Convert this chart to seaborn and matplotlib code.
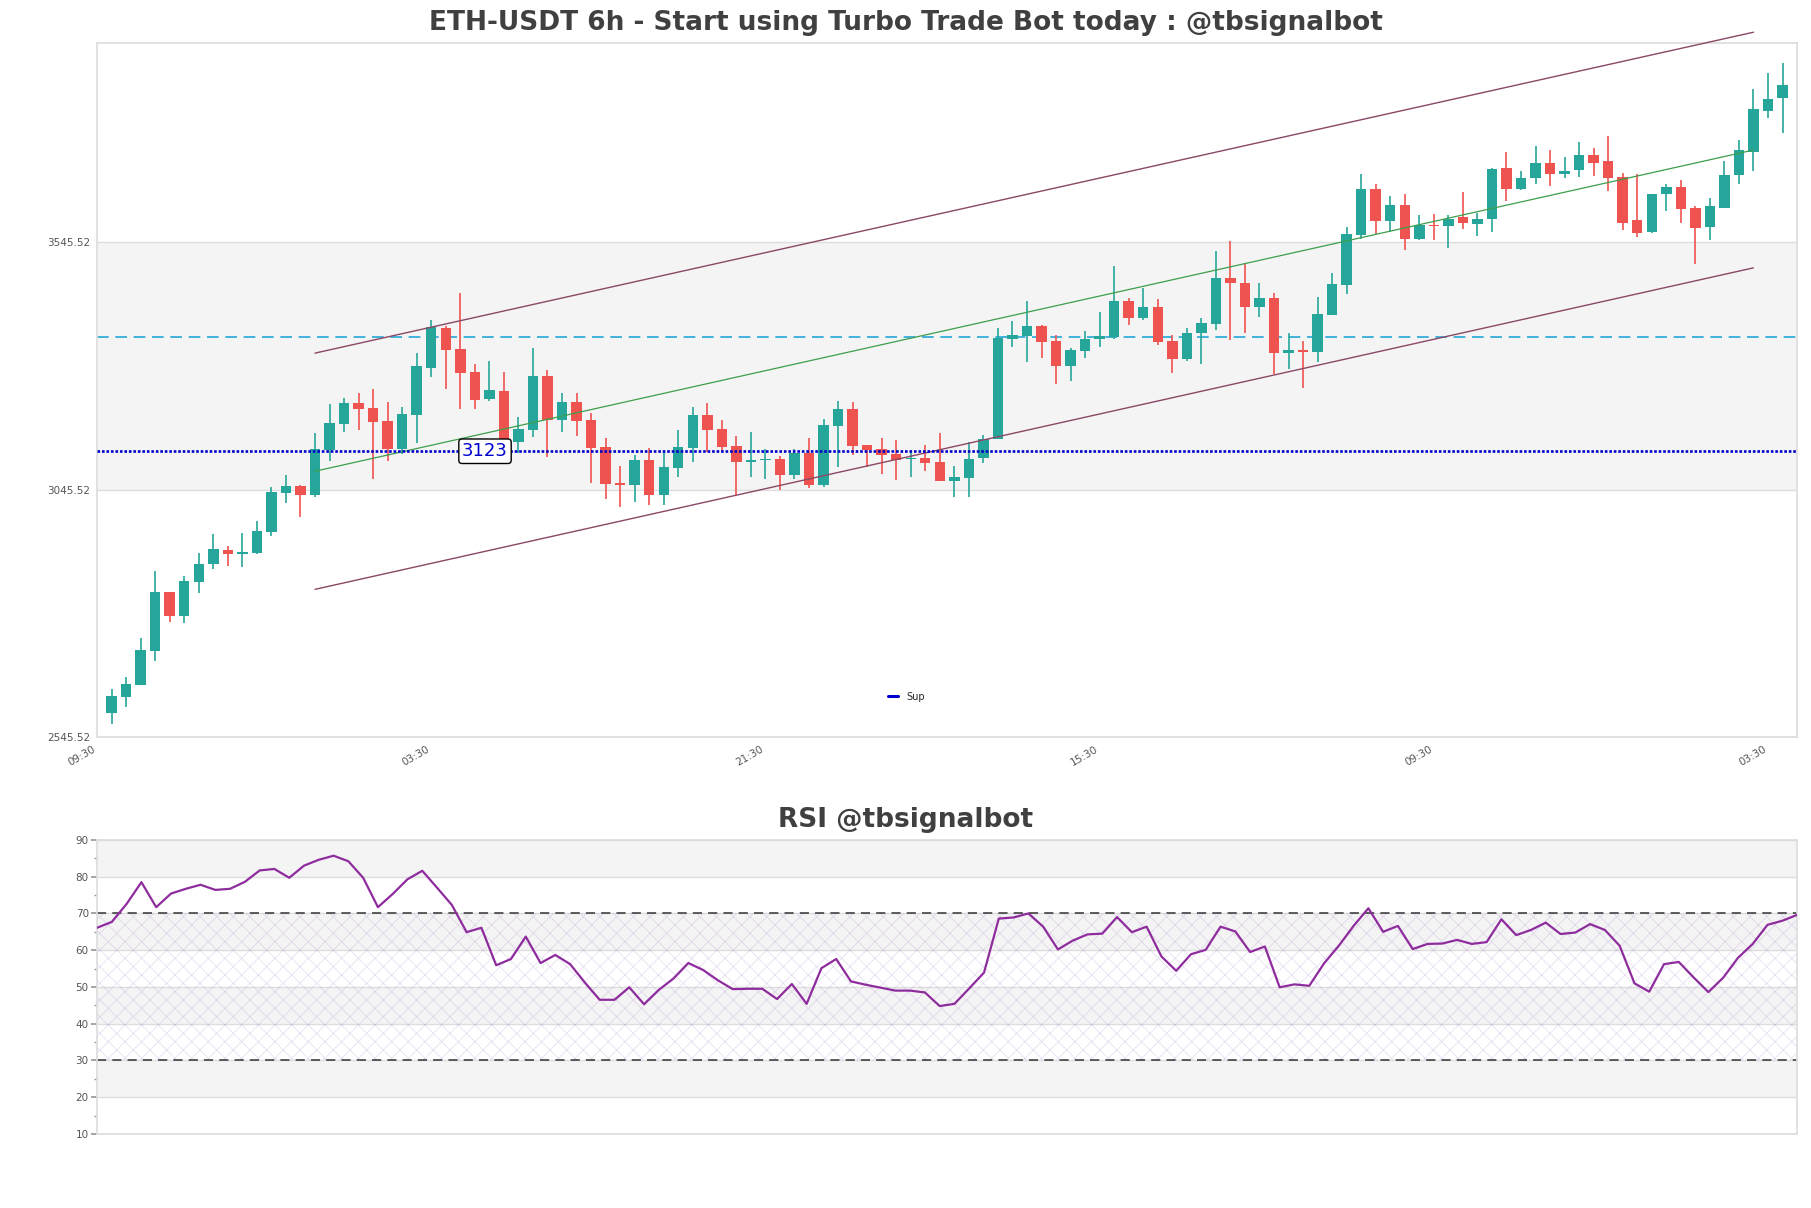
import numpy as np
import pandas as pd
import matplotlib
matplotlib.use('Agg')
import matplotlib.pyplot as plt
from matplotlib.lines import Line2D
import seaborn as sns

# 6h candles, index 0 = first candle (15:30)
opens = [2594.7, 2627.0, 2650.6, 2720.0, 2838.5, 2790.6, 2859.3, 2894.3, 2922.6, 2914.5,
         2917.9, 2960.3, 3039.1, 3052.6, 3034.4, 3125.3, 3178.5, 3220.3, 3210.2, 3183.9,
         3127.4, 3196.7, 3291.6, 3371.8, 3329.4, 3282.9, 3228.3, 3244.5, 3141.5, 3165.7,
         3274.8, 3186.6, 3221.6, 3185.9, 3130.7, 3058.0, 3055.3, 3105.1, 3035.1, 3089.6,
         3130.0, 3196.0, 3167.7, 3133.4, 3101.7, 3104.4, 3107.1, 3074.8, 3119.9, 3054.6,
         3174.5, 3208.2, 3135.4, 3126.7, 3117.3, 3106.5, 3109.2, 3101.1, 3063.4, 3069.4,
         3108.5, 3146.8, 3348.9, 3356.3, 3375.8, 3345.5, 3295.7, 3326.0, 3348.9, 3352.9,
         3426.3, 3392.6, 3414.9, 3345.5, 3309.2, 3361.0, 3379.9, 3473.5, 3463.4, 3414.9,
         3433.0, 3321.9, 3327.3, 3323.9, 3398.7, 3458.6, 3559.7, 3653.9, 3587.9, 3620.3,
         3551.6, 3581.2, 3578.5, 3595.4, 3583.2, 3592.0, 3694.4, 3652.6, 3676.2, 3704.5,
         3684.2, 3692.3, 3722.6, 3709.2, 3677.5, 3590.0, 3565.1, 3642.5, 3657.3, 3614.9,
         3576.5, 3614.9, 3680.9, 3728.0, 3810.8, 3837.1]
highs = [2641.8, 2666.1, 2744.8, 2880.9, 2838.5, 2870.8, 2916.6, 2955.6, 2931.4, 2957.0,
         2981.9, 3049.9, 3074.8, 3054.6, 3159.0, 3218.3, 3230.4, 3240.5, 3248.6, 3221.6,
         3212.9, 3320.6, 3387.9, 3375.1, 3443.2, 3299.0, 3305.1, 3283.6, 3192.0, 3332.1,
         3286.9, 3239.8, 3239.8, 3199.4, 3148.9, 3093.0, 3115.2, 3130.0, 3122.0, 3165.7,
         3212.9, 3219.6, 3185.9, 3153.6, 3161.7, 3126.7, 3113.2, 3126.7, 3148.9, 3187.3,
         3224.3, 3221.6, 3135.4, 3148.9, 3145.5, 3125.3, 3135.4, 3160.4, 3093.0, 3142.1,
         3155.6, 3371.1, 3386.6, 3426.3, 3378.0, 3357.6, 3330.7, 3365.7, 3403.4, 3497.0,
         3433.0, 3451.9, 3429.7, 3357.6, 3371.1, 3391.3, 3528.0, 3548.2, 3503.8, 3462.0,
         3443.8, 3362.4, 3345.5, 3435.1, 3484.2, 3576.4, 3684.2, 3662.7, 3639.1, 3642.5,
         3600.1, 3602.1, 3600.1, 3647.2, 3605.4, 3695.7, 3728.0, 3688.9, 3739.5, 3731.4,
         3717.9, 3748.2, 3736.1, 3759.7, 3686.3, 3682.9, 3643.8, 3664.0, 3670.8, 3618.3,
         3635.1, 3709.2, 3751.6, 3854.6, 3888.3, 3908.5]
lows = [2571.8, 2606.8, 2650.0, 2699.8, 2778.5, 2775.2, 2837.1, 2884.9, 2891.6, 2889.6,
        2914.5, 2952.3, 3019.0, 2989.3, 3031.0, 3103.8, 3162.4, 3165.7, 3066.7, 3103.8,
        3117.3, 3138.8, 3272.1, 3248.6, 3208.2, 3208.2, 3224.3, 3130.0, 3119.0, 3152.3,
        3111.9, 3162.4, 3154.3, 3058.0, 3025.7, 3009.5, 3021.0, 3014.2, 3014.2, 3071.4,
        3101.7, 3122.0, 3122.0, 3034.4, 3071.4, 3066.0, 3044.5, 3066.0, 3049.2, 3051.2,
        3090.3, 3115.2, 3090.3, 3076.2, 3064.7, 3071.4, 3083.6, 3063.4, 3029.7, 3031.0,
        3098.4, 3146.8, 3334.1, 3303.8, 3311.8, 3258.0, 3265.4, 3311.8, 3334.1, 3348.9,
        3377.8, 3387.9, 3337.4, 3281.5, 3305.1, 3299.0, 3367.7, 3347.5, 3362.4, 3394.6,
        3278.8, 3288.9, 3251.2, 3302.4, 3398.7, 3440.5, 3552.9, 3563.0, 3566.4, 3529.4,
        3549.6, 3549.6, 3534.1, 3571.8, 3558.3, 3566.4, 3629.0, 3650.6, 3662.7, 3659.3,
        3675.5, 3677.5, 3679.5, 3649.2, 3571.1, 3556.3, 3564.4, 3608.8, 3584.6, 3502.4,
        3549.6, 3614.9, 3662.7, 3689.0, 3796.7, 3766.4]
closes = [2628.4, 2652.6, 2721.3, 2838.5, 2790.6, 2860.7, 2895.0, 2924.6, 2914.5, 2918.6,
          2961.7, 3040.5, 3052.6, 3035.1, 3127.4, 3179.9, 3220.3, 3208.8, 3182.5, 3127.4,
          3198.0, 3295.0, 3373.1, 3328.0, 3280.9, 3226.3, 3245.9, 3141.5, 3167.7, 3274.8,
          3186.6, 3221.6, 3184.6, 3130.0, 3056.6, 3055.3, 3105.1, 3035.1, 3091.0, 3131.4,
          3196.0, 3166.4, 3132.1, 3101.7, 3104.4, 3107.1, 3074.8, 3119.9, 3054.6, 3175.8,
          3208.2, 3134.1, 3125.3, 3115.9, 3105.1, 3109.2, 3099.7, 3063.4, 3070.1, 3107.1,
          3147.5, 3352.3, 3357.6, 3375.8, 3344.2, 3295.7, 3327.3, 3349.6, 3355.6, 3426.3,
          3392.6, 3414.9, 3344.2, 3309.2, 3362.4, 3382.5, 3473.5, 3462.0, 3414.9, 3433.0,
          3321.9, 3327.3, 3323.9, 3400.1, 3460.7, 3561.7, 3653.9, 3588.6, 3620.3, 3551.6,
          3581.2, 3577.8, 3593.3, 3584.6, 3593.3, 3693.0, 3652.6, 3676.2, 3706.5, 3684.2,
          3688.9, 3721.3, 3705.8, 3675.5, 3584.6, 3564.4, 3643.8, 3657.3, 3612.2, 3574.5,
          3618.3, 3680.9, 3731.4, 3815.6, 3834.4, 3862.7]

rsi = [66.1, 67.7, 72.6, 78.5, 71.7, 75.4, 76.7, 77.8, 76.4, 76.7, 78.6, 81.7, 82.1, 79.7,
       83.0, 84.6, 85.7, 84.2, 79.7, 71.7, 75.3, 79.3, 81.6, 77.0, 72.3, 64.9, 66.1, 55.9,
       57.6, 63.7, 56.5, 58.7, 56.2, 51.2, 46.5, 46.5, 49.9, 45.3, 49.2, 52.3, 56.5, 54.6,
       51.8, 49.4, 49.5, 49.5, 46.7, 50.8, 45.4, 55.1, 57.6, 51.5, 50.6, 49.8, 49.0, 49.0,
       48.5, 44.8, 45.4, 49.6, 53.9, 68.6, 68.9, 70.0, 66.4, 60.2, 62.6, 64.3, 64.5, 69.0,
       64.9, 66.4, 58.3, 54.4, 58.9, 60.1, 66.4, 65.1, 59.5, 61.0, 49.9, 50.7, 50.3, 56.4,
       61.2, 66.6, 71.4, 65.0, 66.6, 60.3, 61.7, 61.8, 62.8, 61.7, 62.2, 68.4, 64.1, 65.5,
       67.5, 64.4, 64.8, 67.1, 65.5, 61.2, 51.0, 48.7, 56.2, 56.8, 52.6, 48.6, 52.5, 57.9,
       61.7, 66.9, 68.0, 69.6]

# trend channel (start / end candle index)
channel_x = [14, 113]
channel_upper = [3321.3, 3969.8]
channel_mid = [3082.6, 3731.7]
channel_lower = [2843.9, 3493.6]

support = 3123
resistance = 3353.2
price_ticks = [2545.52, 3045.52, 3545.52]
price_top = 3948.0
time_labels = ['09:30', '03:30', '21:30', '15:30', '09:30', '03:30']
rsi_ticks = [10, 20, 30, 40, 50, 60, 70, 80, 90]

sns.set_theme(style='white')
plt.rcParams['font.family'] = ['DejaVu Sans']
plt.rcParams['hatch.linewidth'] = 0.5

df = pd.DataFrame({'open': opens, 'high': highs, 'low': lows, 'close': closes})
df['idx'] = np.arange(len(df))
n = len(df)
green, red = '#26a69a', '#ef5350'
cols = np.where(df['close'] >= df['open'], green, red)

fig = plt.figure(figsize=(18.11, 12.08), dpi=100)
ax = fig.add_axes([0.0536, 0.3899, 0.9387, 0.5745])
rx = fig.add_axes([0.0536, 0.0613, 0.9387, 0.2434])

grey_band = '#f4f4f4'
grid_col = '#dddddd'
txt_col = '#404040'

# ---- price panel
for k in range(len(price_ticks) - 1):
    if k % 2 == 1:
        ax.axhspan(price_ticks[k], price_ticks[k + 1], color=grey_band, zorder=0, lw=0)
for t in price_ticks:
    ax.axhline(t, color=grid_col, lw=1, zorder=1)

ax.vlines(df['idx'], df['low'], df['high'], colors=cols, lw=1.2, zorder=3)
body = (df['close'] - df['open']).abs().clip(lower=2.5)
ax.bar(df['idx'], body, bottom=df[['open', 'close']].min(axis=1), width=0.72,
       color=cols, lw=0, zorder=4)

sns.lineplot(x=channel_x, y=channel_upper, ax=ax, color='#8b4866', lw=1.0, clip_on=False, zorder=5)
sns.lineplot(x=channel_x, y=channel_lower, ax=ax, color='#8b4866', lw=1.0, zorder=5)
sns.lineplot(x=channel_x, y=channel_mid, ax=ax, color='#3d9e4c', lw=0.9, zorder=5)

ax.axhline(resistance, color='#22a7d6', ls=(0, (7, 4)), lw=1.2, zorder=2)
ax.axhline(support, color='#0000cc', ls=(0, (1, 0.7)), lw=1.9, zorder=5)
ax.text(25.7, support, str(support), color='#0000cc', fontsize=13, ha='center', va='center',
        bbox=dict(boxstyle='round,pad=0.18', fc='white', ec='black', lw=1), zorder=7)

ax.legend(handles=[Line2D([], [], color='#0000cc', lw=2.2)], labels=['Sup'],
          loc='center', bbox_to_anchor=(0.476, 0.058), frameon=False, fontsize=7,
          handlelength=1.1, handletextpad=0.8)

ax.set_xlim(-1, n)
ax.set_ylim(price_ticks[0], price_top)
ax.set_yticks(price_ticks)
ax.set_yticklabels(['%.2f' % t for t in price_ticks])
ax.set_xticks(np.arange(-1, n, 23))
ax.set_xticklabels(time_labels, rotation=30, ha='right')
ax.tick_params(axis='both', labelsize=7.5, labelcolor='#555555', length=3, color=grid_col, pad=2)
ax.set_xlabel('')
ax.set_ylabel('')
for s in ax.spines.values():
    s.set_color(grid_col)
fig.text(0.5, 1 - 23 / 1208, 'ETH-USDT 6h - Start using Turbo Trade Bot today : @tbsignalbot',
         fontsize=19, fontweight='bold', color=txt_col, ha='center', va='center')

# ---- RSI panel
for k in range(len(rsi_ticks) - 1):
    if k % 2 == 1:
        rx.axhspan(rsi_ticks[k], rsi_ticks[k + 1], color=grey_band, zorder=0, lw=0)
for t in rsi_ticks:
    rx.axhline(t, color=grid_col, lw=1, zorder=1)
rx.fill_between([0, n - 1], 30, 70, facecolor='none', edgecolor=(0.65, 0.5, 0.8, 0.3),
                hatch='xx', lw=0, zorder=1)
rx.axhline(70, color='#333333', ls=(0, (6, 4)), lw=1.1, zorder=2)
rx.axhline(30, color='#333333', ls=(0, (6, 4)), lw=1.1, zorder=2)
sns.lineplot(x=df['idx'], y=rsi, ax=rx, color='#8e2c9e', lw=1.6, zorder=4)

rx.set_xlim(0, n - 1)
rx.set_ylim(10, 90)
rx.set_yticks(rsi_ticks)
rx.set_yticks(np.arange(15, 90, 10), minor=True)
rx.set_xticks([])
rx.tick_params(axis='y', which='major', labelsize=7.5, labelcolor='#555555', length=4,
               color='#999999', left=True, pad=2)
rx.tick_params(axis='y', which='minor', length=2, color='#999999', left=True)
rx.set_xlabel('')
rx.set_ylabel('')
for s in rx.spines.values():
    s.set_color(grid_col)
fig.text(0.5, 1 - 820 / 1208, 'RSI @tbsignalbot', fontsize=19, fontweight='bold',
         color=txt_col, ha='center', va='center')

fig.savefig('out.png', dpi=100)
